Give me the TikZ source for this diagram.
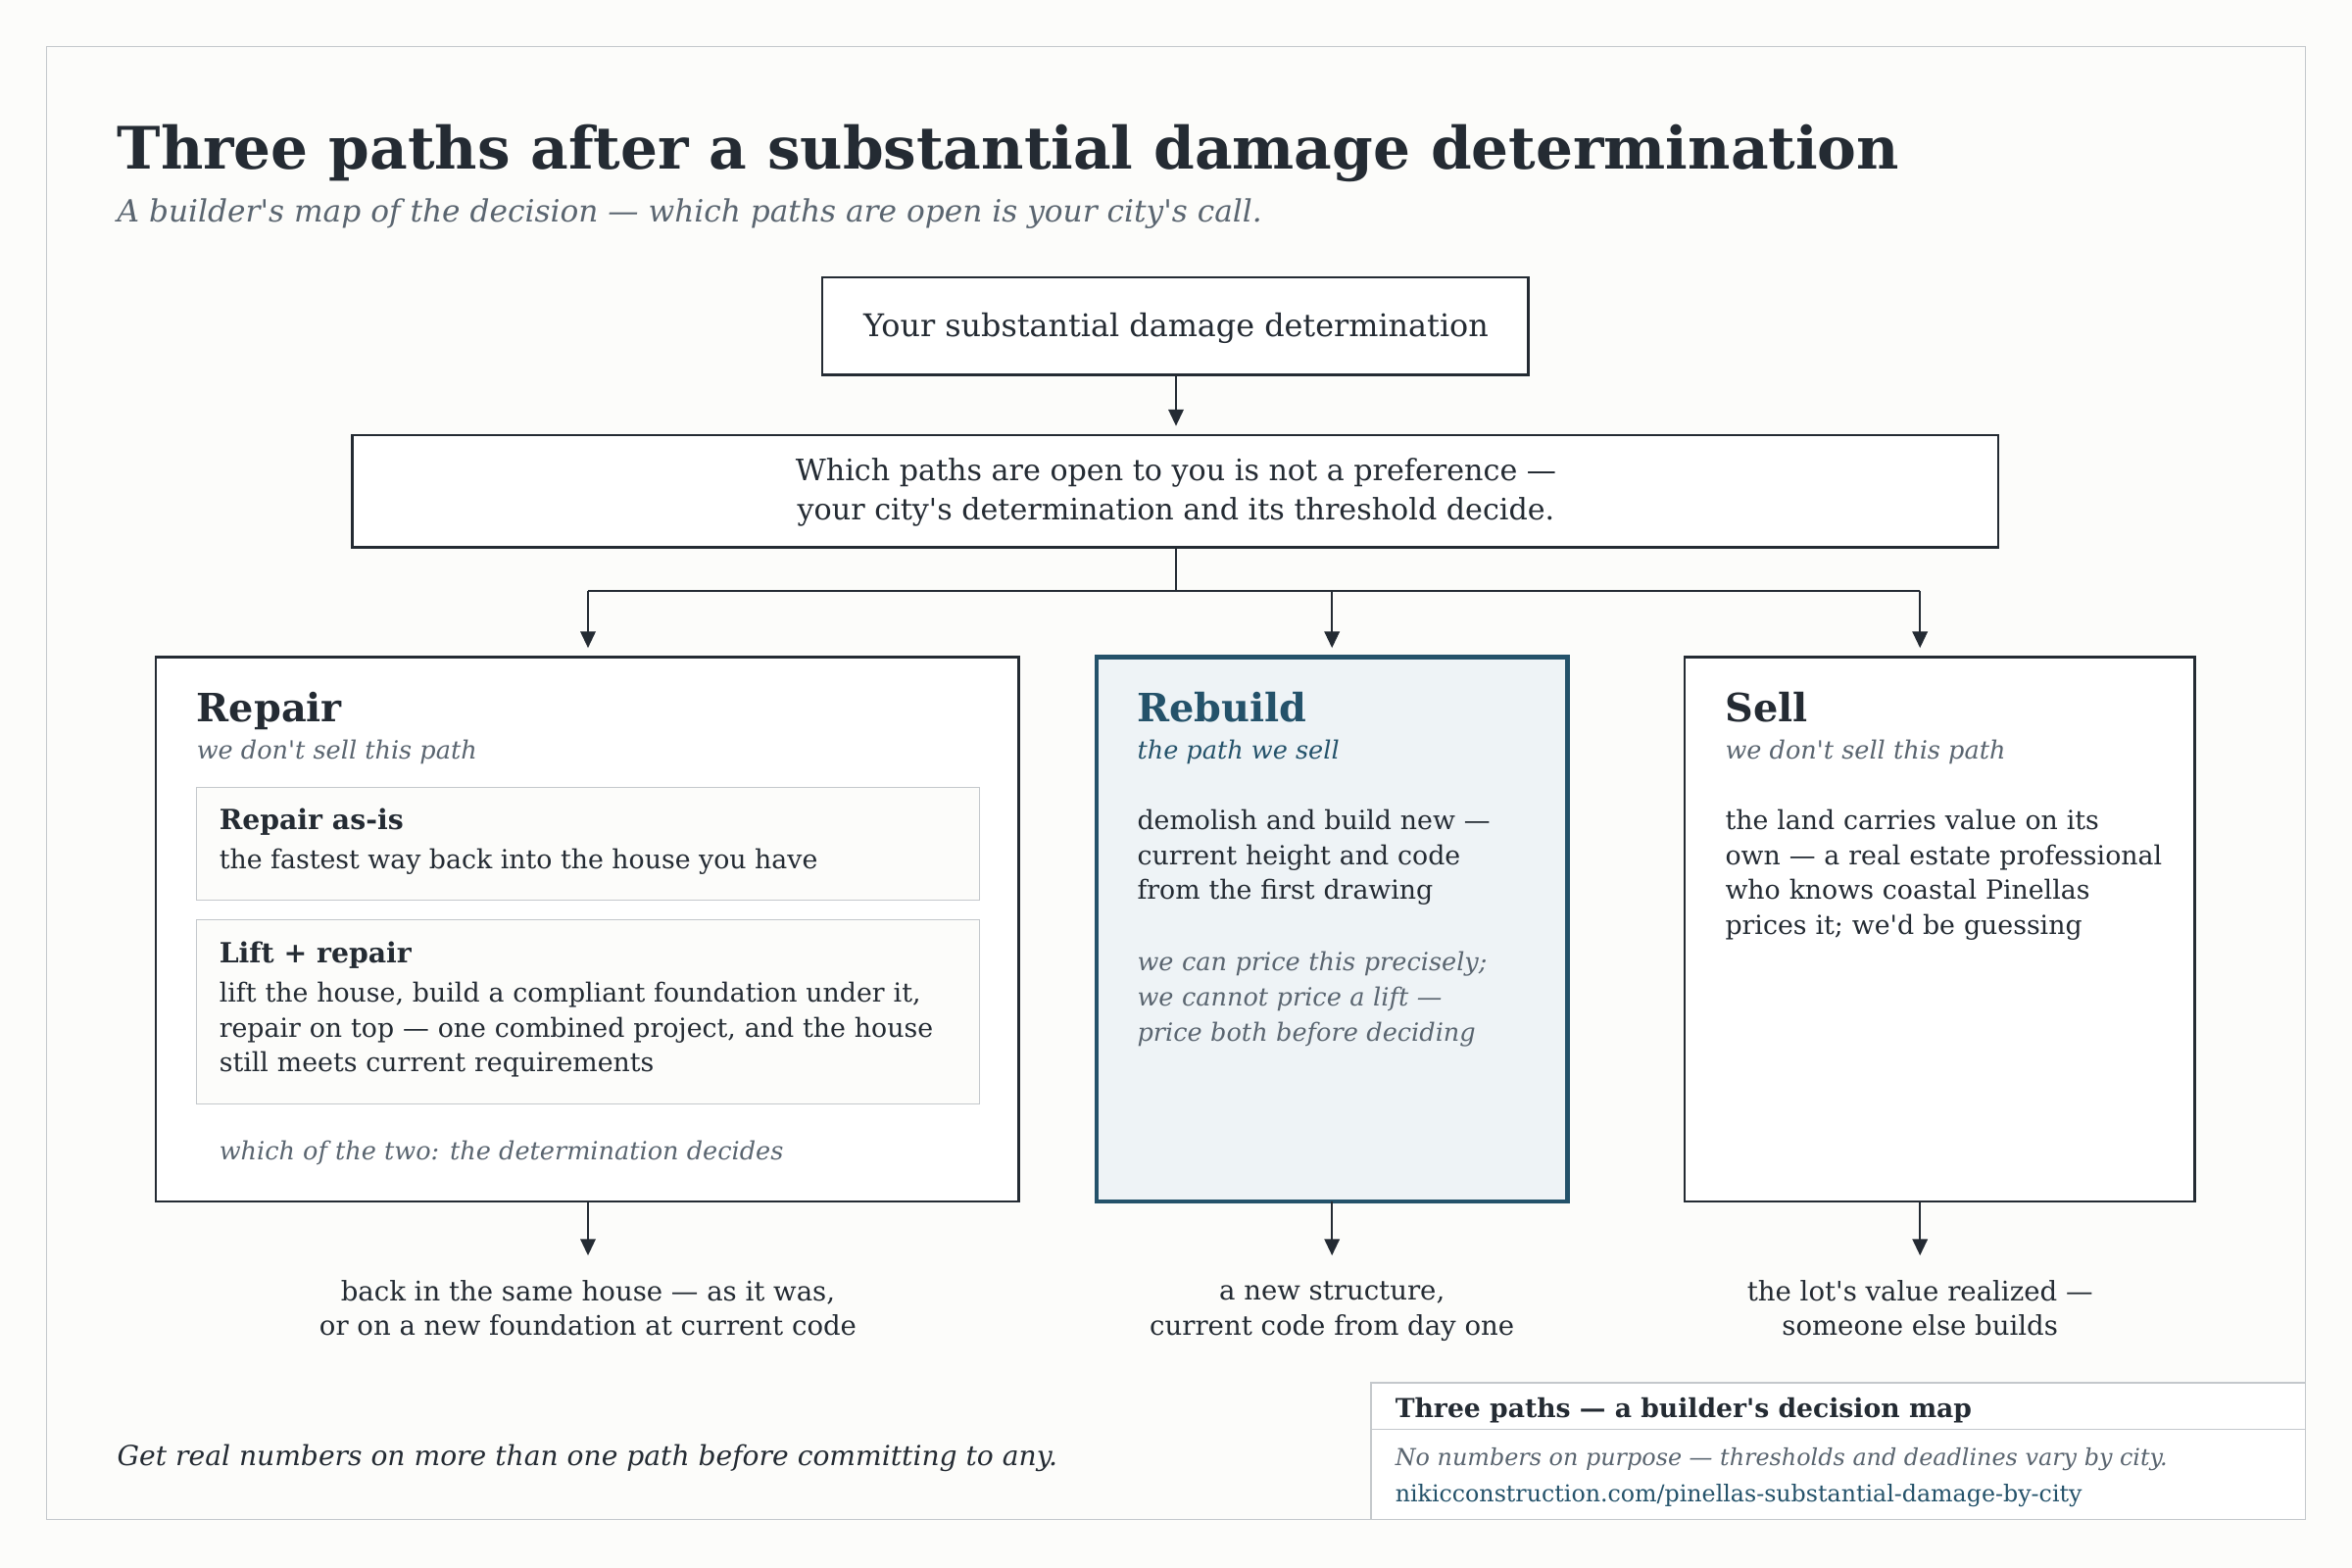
\documentclass[tikz,border=0pt]{standalone}
\usepackage{fontspec}
\setmainfont{DejaVu Serif}
\usetikzlibrary{arrows.meta}
\newcommand\sq{\textquotesingle}
\definecolor{ink}{HTML}{242B33}
\definecolor{gray1}{HTML}{5A6570}
\definecolor{teal1}{HTML}{24526A}
\definecolor{bg}{HTML}{FCFCFA}
\definecolor{fillr}{HTML}{EEF3F6}
\definecolor{lgray}{HTML}{C4C8CC}
\begin{document}
\begin{tikzpicture}[x=1pt,y=-1pt,
  txt/.style={anchor=base west,inner sep=0,text=ink,font=\fontsize{17.5}{23.3}\selectfont},
  it/.style={txt,text=gray1,font=\fontsize{16.7}{23.5}\selectfont\itshape},
  hd/.style={txt,font=\fontsize{26}{30}\selectfont\bfseries},
  sub/.style={txt,font=\fontsize{18.5}{22}\selectfont\bfseries},
  box/.style={draw=ink,line width=1.6pt},
  arr/.style={draw=ink,line width=1.6pt,-{Triangle[length=11pt,width=10pt]}},
  ctr/.style={txt,anchor=center,align=center,font=\fontsize{18}{23.5}\selectfont}]
\useasboundingbox (0,0) rectangle (1568,1045);
\fill[bg] (0,0) rectangle (1568,1045);
\draw[lgray,line width=1pt] (31,31) rectangle (1537,1013);
\node[txt,font=\fontsize{39}{42}\selectfont\bfseries] (title) at (78,113) {Three paths after a substantial damage determination};
\node[it,font=\fontsize{20.4}{24}\selectfont\itshape] (subt) at (78,148) {A builder\sq{}s map of the decision — which paths are open is your city\sq{}s call.};
% top boxes
\draw[box,fill=white] (548,185) rectangle (1019,250);
\node[txt,anchor=center,font=\fontsize{20.8}{24}\selectfont] (b1) at (784,219) {Your substantial damage determination};
\coordinate (b1s) at (784,250);
\coordinate (b2n) at (784,284);
\draw[arr] (b1s) -- (b2n);
\draw[box,fill=white] (235,290) rectangle (1332,365);
\node[txt,anchor=center,align=center,font=\fontsize{19.7}{26}\selectfont] (b2) at (784,328) {Which paths are open to you is not a preference —\\your city\sq{}s determination and its threshold decide.};
\coordinate (b2s) at (784,365);
\coordinate (j) at (784,394);
\coordinate (jl) at (392,394);
\coordinate (jr) at (1280,394);
\coordinate (jm) at (888,394);
\draw[ink,line width=1.6pt] (b2s) -- (j) (jl) -- (jr);
\coordinate (rn) at (392,432);
\coordinate (mn) at (888,432);
\coordinate (sn) at (1280,432);
\draw[arr] (jl) -- (rn);
\draw[arr] (jm) -- (mn);
\draw[arr] (jr) -- (sn);
% repair
\draw[box,fill=white] (104,438) rectangle (679,801);
\node[hd] (rt) at (131,481) {Repair};
\node[it] (rs) at (131,506) {we don\sq{}t sell this path};
\draw[lgray,line width=1pt,fill=bg] (131,525) rectangle (653,600);
\node[sub] (r1t) at (146,553) {Repair as-is};
\node[txt] (r1x) at (146,579) {the fastest way back into the house you have};
\draw[lgray,line width=1pt,fill=bg] (131,613) rectangle (653,736);
\node[sub] (r2t) at (146,642) {Lift + repair};
\node[txt,align=left,text width=500] (r2x) at (146,668) {lift the house, build a compliant foundation under it,\\repair on top — one combined project, and the house\\still meets current requirements};
\node[it] (rf) at (146,773) {which of the two: the determination decides};
% rebuild
\draw[teal1,line width=3pt,fill=fillr] (731,438) rectangle (1045,801);
\node[hd,text=teal1] (mt) at (758,481) {Rebuild};
\node[it,text=teal1] (ms) at (758,506) {the path we sell};
\node[txt,align=left,text width=280] (mx) at (758,553) {demolish and build new —\\current height and code\\from the first drawing};
\node[it,align=left,text width=280] (mi) at (758,647) {we can price this precisely;\\we cannot price a lift —\\price both before deciding};
% sell
\draw[box,fill=white] (1123,438) rectangle (1463,801);
\node[hd] (st) at (1150,481) {Sell};
\node[it] (ss) at (1150,506) {we don\sq{}t sell this path};
\node[txt,align=left,text width=310] (sx) at (1150,553) {the land carries value on its\\own — a real estate professional\\who knows coastal Pinellas\\prices it; we\sq{}d be guessing};
% outcomes
\coordinate (rs0) at (392,801); \coordinate (rs1) at (392,837);
\coordinate (ms0) at (888,801); \coordinate (ms1) at (888,837);
\coordinate (ss0) at (1280,801); \coordinate (ss1) at (1280,837);
\draw[arr] (rs0) -- (rs1);
\draw[arr] (ms0) -- (ms1);
\draw[arr] (ss0) -- (ss1);
\node[ctr] (ro) at (392,872) {back in the same house — as it was,\\or on a new foundation at current code};
\node[ctr] (mo) at (888,874) {a new structure,\\current code from day one};
\node[ctr] (so) at (1280,872) {the lot\sq{}s value realized —\\someone else builds};
% footer
\node[txt,font=\fontsize{18.4}{22}\selectfont\itshape] (foot) at (78,977) {Get real numbers on more than one path before committing to any.};
\draw[lgray,line width=1pt,fill=white] (914,922) rectangle (1537,1013);
\draw[lgray,line width=1pt] (914,953) -- (1537,953);
\node[txt,font=\fontsize{17.4}{20}\selectfont\bfseries] (ft) at (930,945) {Three paths — a builder\sq{}s decision map};
\node[it,font=\fontsize{15.6}{18}\selectfont\itshape] (fi) at (930,977) {No numbers on purpose — thresholds and deadlines vary by city.};
\node[txt,text=teal1,font=\fontsize{15.5}{18}\selectfont] (fl) at (930,1001) {nikicconstruction.com/pinellas-substantial-damage-by-city};
\end{tikzpicture}
\end{document}
